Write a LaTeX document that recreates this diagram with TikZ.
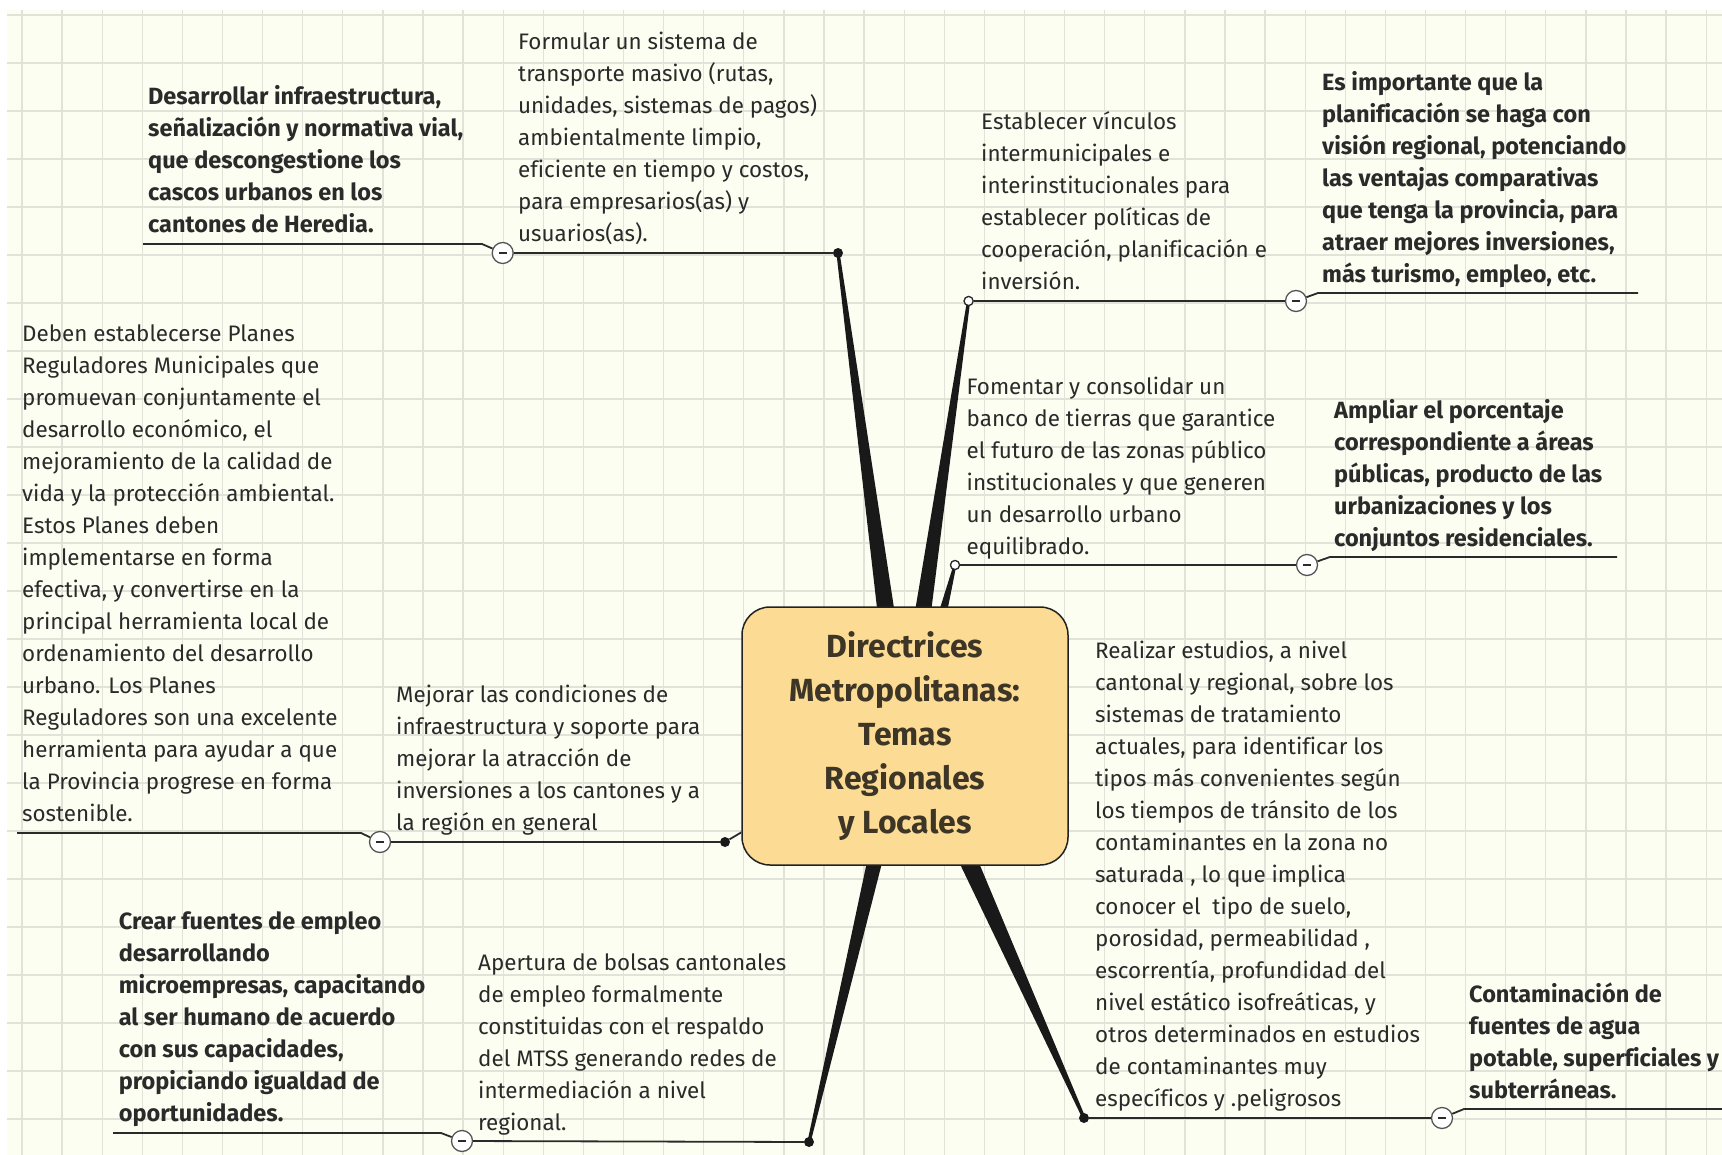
\documentclass[tikz,border=0pt]{standalone}
\usepackage{fontspec}
\setmainfont[Ligatures=NoCommon]{Fira Sans}
\usetikzlibrary{calc}
\definecolor{paper}{HTML}{FDFEF2}
\definecolor{gridc}{HTML}{E1E2D8}
\definecolor{topicfill}{HTML}{FCDB95}
\definecolor{ink}{HTML}{2A2A2A}
\definecolor{centralink}{HTML}{3D3526}
\newcommand\taperline[4]{\fill[ink!60!black] ($(#1)!#3!90:(#2)$) -- ($(#2)!#4!-90:(#1)$) -- ($(#2)!#4!90:(#1)$) -- ($(#1)!#3!-90:(#2)$) -- cycle;}
\begin{document}
\begin{tikzpicture}[x=1pt,y=-1pt,
  txt/.style={anchor=base west, inner sep=0pt, align=left, text=ink, font=\fontsize{22.4}{32}\selectfont},
  btxt/.style={anchor=base west, inner sep=0pt, align=left, text=ink, font=\fontsize{23.5}{32}\selectfont\bfseries},
  uline/.style={draw=ink, line width=1.8pt},
  cminus/.style={circle, draw=ink!80, line width=1.3pt, fill=white, minimum size=21pt, inner sep=0pt,
    path picture={\draw[line width=1.6pt, ink] ([xshift=-4pt]path picture bounding box.center) -- ([xshift=4pt]path picture bounding box.center);}},
  dotf/.style={circle, fill=ink!60!black, minimum size=10pt, inner sep=0pt},
  doto/.style={circle, draw=ink, line width=1.2pt, fill=white, minimum size=9pt, inner sep=0pt},
  central/.style={draw=ink!80!black, line width=1.5pt, fill=topicfill, rounded corners=28pt,
    minimum width=326pt, minimum height=258pt, align=center, text=centralink,
    font=\fontsize{32}{44}\selectfont\bfseries}
]
\useasboundingbox (0,0) rectangle (1722,1155);
\fill[white] (0,0) rectangle (1722,1155);
\fill[paper] (7,10) rectangle (1722,1155);
\foreach \i in {0,...,42} \draw[gridc, line width=1.3pt] ({22+40.1*\i},10) -- ({22+40.1*\i},1155);
\foreach \j in {0,...,23} \draw[gridc, line width=1.3pt] (7,{15+48*\j}) -- (1722,{15+48*\j});

% markers
\node[dotf] (dA) at (838,253) {};
\node[doto] (oB) at (968.6,301) {};
\node[doto] (oC) at (955,565) {};
\node[dotf] (dD) at (725,842) {};
\node[dotf] (dE) at (809,1142) {};
\node[dotf] (dF) at (1084,1118) {};
\node[cminus] (cA) at (502.7,253) {};
\node[cminus] (cB) at (1296,301) {};
\node[cminus] (cC) at (1307,565) {};
\node[cminus] (cD) at (380,842) {};
\node[cminus] (cE) at (462,1141) {};
\node[cminus] (cF) at (1442,1118) {};

% tapered branches (under the central topic)
\coordinate (bA) at (886,612);
\coordinate (bB) at (923,612);
\coordinate (bC) at (943,612);
\coordinate (bE) at (875,860);
\coordinate (bF) at (968,860);
\taperline{bA}{dA.center}{8.5pt}{1.6pt}
\taperline{bB}{oB.center}{8pt}{1.6pt}
\taperline{bC}{oC.center}{4pt}{1.4pt}
\taperline{bE}{dE.center}{7.5pt}{1.6pt}
\taperline{bF}{dF.center}{9pt}{1.6pt}

\node[central] (root) at (905,736) {Directrices\\Metropolitanas:\\Temas\\Regionales\\y Locales};
\draw[uline] (dD) -- (root);

% redraw hollow markers over branches
\node[doto] at (oB) {};
\node[doto] at (oC) {};

% underlines
\draw[uline] (cA) -- (dA);
\coordinate (a1s) at (143,244); \coordinate (a1b) at (482,244);
\draw[uline] (a1s) -- (a1b) -- (cA);
\draw[uline] (oB) -- (cB);
\coordinate (b1b) at (1318,293); \coordinate (b1e) at (1638,293);
\draw[uline] (cB) -- (b1b) -- (b1e);
\draw[uline] (oC) -- (cC);
\coordinate (c1b) at (1330,557); \coordinate (c1e) at (1617,557);
\draw[uline] (cC) -- (c1b) -- (c1e);
\draw[uline] (cD) -- (dD);
\coordinate (d1s) at (17,833); \coordinate (d1b) at (361,833);
\draw[uline] (d1s) -- (d1b) -- (cD);
\draw[uline] (cE) -- (dE);
\coordinate (e1s) at (113,1133); \coordinate (e1b) at (441,1133);
\draw[uline] (e1s) -- (e1b) -- (cE);
\draw[uline] (dF) -- (cF);
\coordinate (f1b) at (1464,1109); \coordinate (f1e) at (1722,1109);
\draw[uline] (cF) -- (f1b) -- (f1e);

% texts (anchored at the baseline of their last line)
\node[txt] (tA) at (518,242) {Formular un sistema de\\transporte masivo (rutas,\\unidades, sistemas de pagos)\\ambientalmente limpio,\\eficiente en tiempo y costos,\\para empresarios(as) y\\usuarios(as).};
\node[btxt] (tA1) at (148,233) {Desarrollar infraestructura,\\señalización y normativa vial,\\que descongestione los\\cascos urbanos en los\\cantones de Heredia.};
\node[txt] (tB) at (981,290) {Establecer vínculos\\intermunicipales e\\interinstitucionales para\\establecer políticas de\\cooperación, planificación e\\inversión.};
\node[btxt] (tB1) at (1322,283) {Es importante que la\\planificación se haga con\\visión regional, potenciando\\las ventajas comparativas\\que tenga la provincia, para\\atraer mejores inversiones,\\más turismo, empleo, etc.};
\node[txt] (tC) at (966.5,554) {Fomentar y consolidar un\\banco de tierras que garantice\\el futuro de las zonas público\\institucionales y que generen\\un desarrollo urbano\\equilibrado.};
\node[btxt] (tC1) at (1334,546) {Ampliar el porcentaje\\correspondiente a áreas\\públicas, producto de las\\urbanizaciones y los\\conjuntos residenciales.};
\node[txt] (tD) at (396,830) {Mejorar las condiciones de\\infraestructura y soporte para\\mejorar la atracción de\\inversiones a los cantones y a\\la región en general};
\node[txt] (tD1) at (22,821) {Deben establecerse Planes\\Reguladores Municipales que\\promuevan conjuntamente el\\desarrollo económico, el\\mejoramiento de la calidad de\\vida y la protección ambiental.\\Estos Planes deben\\implementarse en forma\\efectiva, y convertirse en la\\principal herramienta local de\\ordenamiento del desarrollo\\urbano. Los Planes\\Reguladores son una excelente\\herramienta para ayudar a que\\la Provincia progrese en forma\\sostenible.};
\node[txt] (tE) at (478,1130) {Apertura de bolsas cantonales\\de empleo formalmente\\constituidas con el respaldo\\del MTSS generando redes de\\intermediación a nivel\\regional.};
\node[btxt] (tE1) at (118.6,1121) {Crear fuentes de empleo\\desarrollando\\microempresas, capacitando\\al ser humano de acuerdo\\con sus capacidades,\\propiciando igualdad de\\oportunidades.};
\node[txt] (tF) at (1095,1106) {Realizar estudios, a nivel\\cantonal y regional, sobre los\\sistemas de tratamiento\\actuales, para identificar los\\tipos más convenientes según\\los tiempos de tránsito de los\\contaminantes en la zona no\\saturada , lo que implica\\conocer el\ \ tipo de suelo,\\porosidad, permeabilidad ,\\escorrentía, profundidad del\\nivel estático isofreáticas, y\\otros determinados en estudios\\de contaminantes muy\\específicos y .peligrosos};
\node[btxt] (tF1) at (1469,1098) {Contaminación de\\fuentes de agua\\potable, superficiales y\\subterráneas.};
\end{tikzpicture}
\end{document}
